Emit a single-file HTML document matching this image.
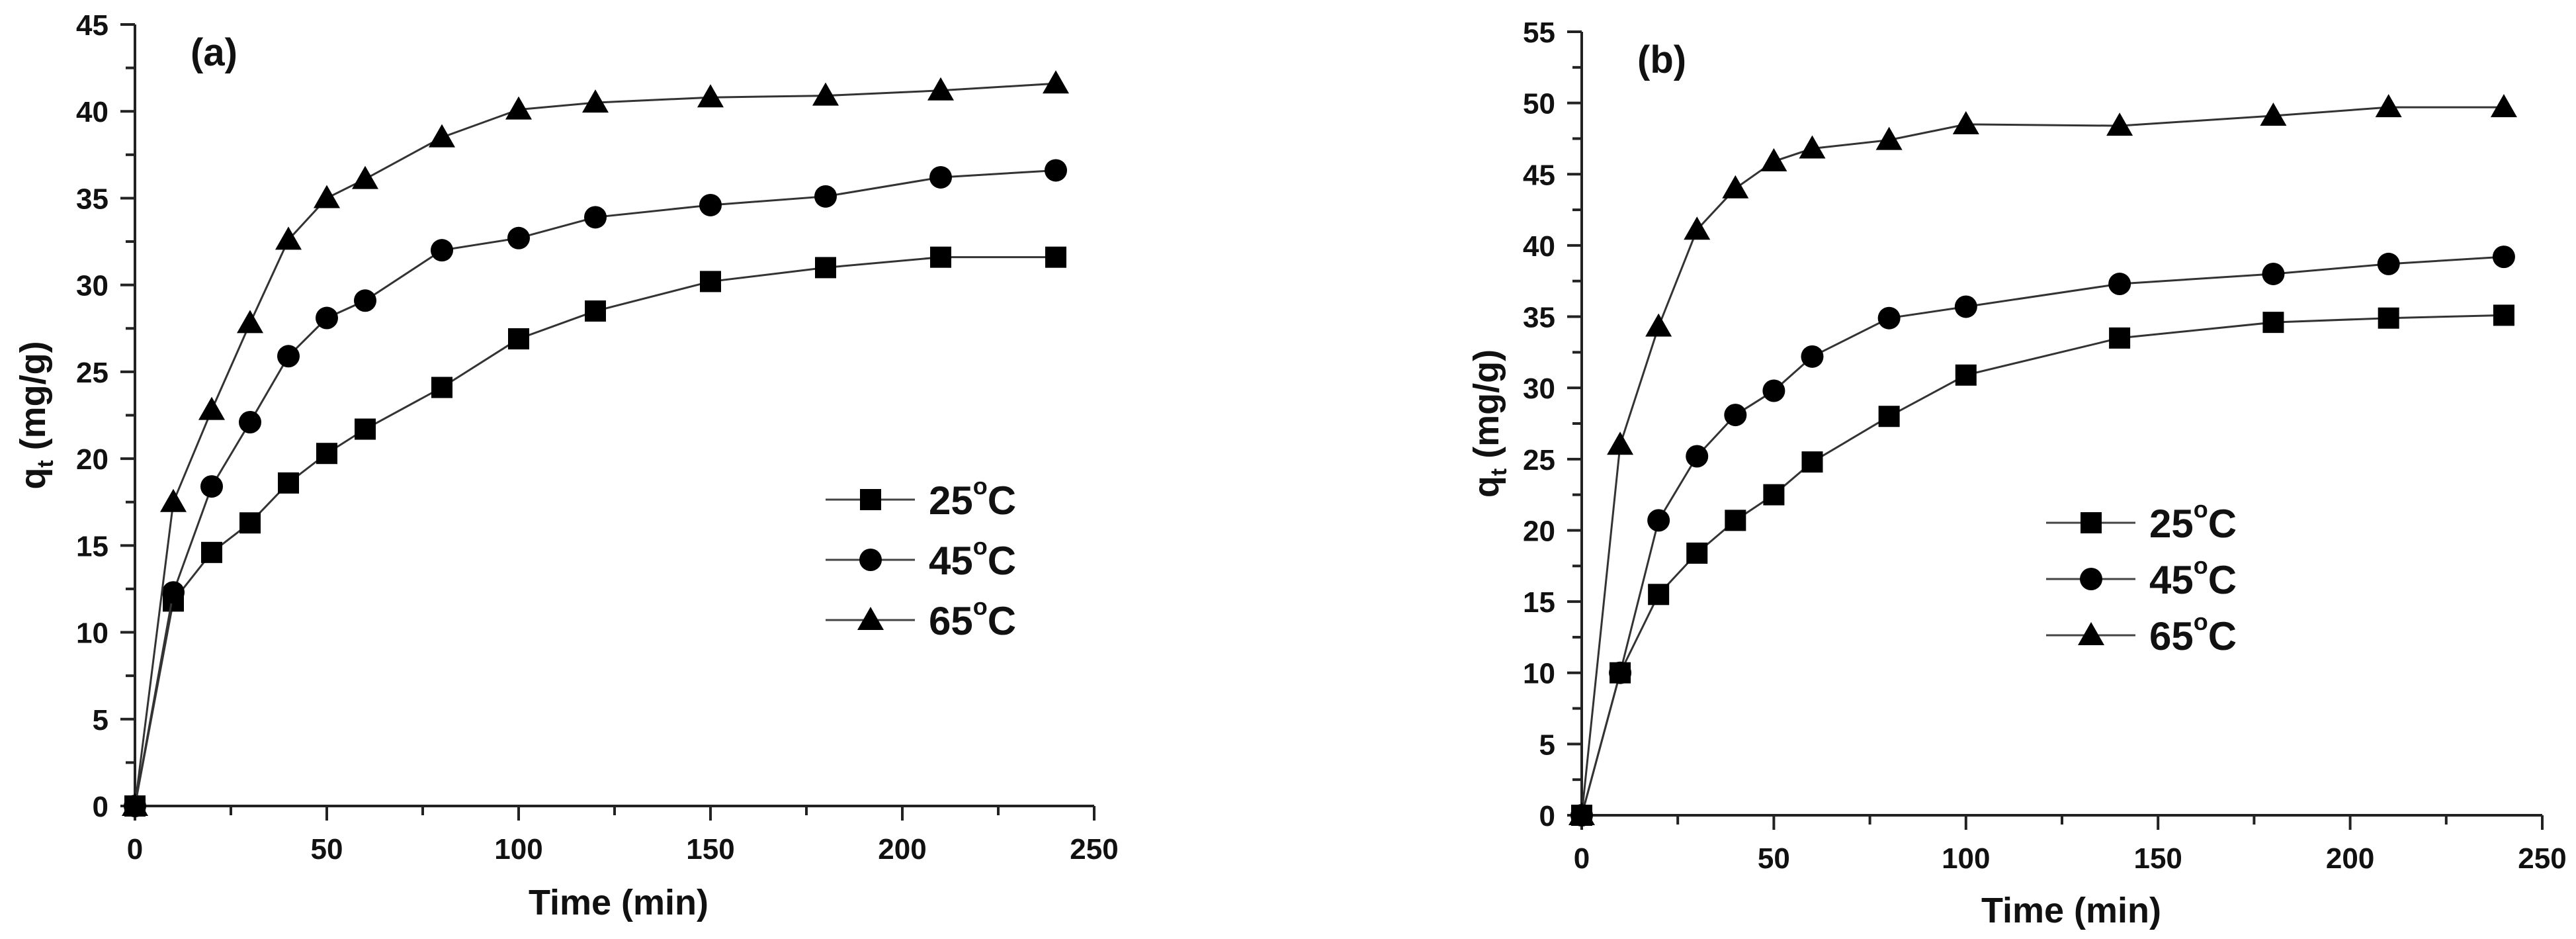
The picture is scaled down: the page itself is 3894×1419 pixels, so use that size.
<!DOCTYPE html>
<html><head><meta charset="utf-8"><style>
html,body{margin:0;padding:0;background:#fff;}
svg{display:block;font-family:"Liberation Sans",Arial,sans-serif;font-weight:bold;}
</style></head><body>
<svg id="fig" width="3894" height="1419" viewBox="0 0 3894 1419" xmlns="http://www.w3.org/2000/svg"></svg>
<script>
const timesA = [0,10,20,30,40,50,60,80,100,120,150,180,210,240];
const a25 = [0,11.8,14.6,16.3,18.6,20.3,21.7,24.1,26.9,28.5,30.2,31.0,31.6,31.6];
const a45 = [0,12.3,18.4,22.1,25.9,28.1,29.1,32.0,32.7,33.9,34.6,35.1,36.2,36.6];
const a65 = [0,17.5,22.8,27.8,32.6,35.0,36.1,38.5,40.1,40.5,40.8,40.9,41.2,41.6];
const timesB = [0,10,20,30,40,50,60,80,100,140,180,210,240];
const b25 = [0,10,15.5,18.4,20.7,22.5,24.8,28.0,30.9,33.5,34.6,34.9,35.1];
const b45 = [0,10,20.7,25.2,28.1,29.8,32.2,34.9,35.7,37.3,38.0,38.7,39.2];
const b65 = [0,26,34.3,41.1,44.0,45.9,46.8,47.4,48.5,48.4,49.1,49.7,49.7];
const xTicks = [0,50,100,150,200,250];
const yTicksA = [0,5,10,15,20,25,30,35,40,45];
const yTicksB = [0,5,10,15,20,25,30,35,40,45,50,55];
const seriesNames = ["25°C","45°C","65°C"];

const NS="http://www.w3.org/2000/svg";
const svg=document.getElementById('fig');
function mk(tag,attrs,parent){const e=document.createElementNS(NS,tag);for(const k in attrs)e.setAttribute(k,attrs[k]);(parent||svg).appendChild(e);return e;}

function marker(g,type,cx,cy){
  let e;
  if(type===0){e=mk('rect',{x:cx-16,y:cy-16,width:32,height:32,fill:'#000'},g);}
  else if(type===1){e=mk('circle',{cx:cx,cy:cy,r:17,fill:'#000'},g);}
  else{e=mk('polygon',{points:`${cx},${cy-20} ${cx+20},${cy+15} ${cx-20},${cy+15}`,fill:'#000'},g);}
  return e;
}

function panel(cfg){
  const {x0,x1,y0,y1,ymax,times,series,yTicks,label,legX,legY,legGap,xTitle,yTitleX,name}=cfg;
  const g=mk('g',{});
  
  
  const X=v=>x0+(x1-x0)*v/250;
  const Y=v=>y0-(y0-y1)*v/ymax;
  const ax=mk('path',{d:`M${x0},${y1} V${y0} H${x1}`,stroke:'#222',fill:'none','stroke-width':4},g);
  
  
  mk('line',{x1:x0-22,y1:y1,x2:x0,y2:y1,stroke:'#222','stroke-width':4},g);
  mk('line',{x1:x1,y1:y0,x2:x1,y2:y0+22,stroke:'#222','stroke-width':4},g);
  for(let v=0;v<=250;v+=25){
    const major=v%50===0;
    mk('line',{x1:X(v),y1:y0,x2:X(v),y2:y0+(major?22:14),stroke:'#222','stroke-width':4},g);
  }
  xTicks.forEach(v=>{
    const t=mk('text',{x:X(v),y:y0+80,'font-size':44,'text-anchor':'middle',fill:'#111'},g);
    t.textContent=v;
    
    
  });
  for(let v=0;v<=ymax;v+=2.5){
    const major=Math.abs(v%5)<1e-6;
    mk('line',{x1:x0-(major?22:14),y1:Y(v),x2:x0,y2:Y(v),stroke:'#222','stroke-width':4},g);
  }
  yTicks.forEach(v=>{
    const t=mk('text',{x:x0-40,y:Y(v)+16,'font-size':44,'text-anchor':'end',fill:'#111'},g);
    t.textContent=v;
    
    
  });
  const xt=mk('text',{x:xTitle[0],y:xTitle[1],'font-size':54,'text-anchor':'middle',fill:'#111'},g);
  xt.textContent='Time (min)';
  
  
  const yt=mk('text',{transform:`translate(${yTitleX},${(y0+y1)/2}) rotate(-90)`,'font-size':54,'text-anchor':'middle',fill:'#111'},g);
  yt.innerHTML='q<tspan font-size="34" dy="12">t</tspan><tspan dy="-12"> (mg/g)</tspan>';
  
  
  const lb=mk('text',{x:x0+84,y:y1+62,'font-size':58,fill:'#111'},g);
  lb.textContent=label;
  
  
  series.forEach((vals,si)=>{
    const sg=mk('g',{},g);
    
    
    const pts=vals.map((v,i)=>`${X(times[i])},${Y(v)}`).join(' ');
    mk('polyline',{points:pts,fill:'none',stroke:'#333','stroke-width':3},sg);
    vals.forEach((v,i)=>{
      const m=marker(sg,si,X(times[i]),Y(v));
      
      
    });
  });
  seriesNames.forEach((n,i)=>{
    const lg=mk('g',{},g);
    
    
    const cy=legY+i*legGap;
    mk('line',{x1:legX,y1:cy,x2:legX+135,y2:cy,stroke:'#444','stroke-width':3},lg);
    marker(lg,i,legX+68,cy);
    const t=mk('text',{x:legX+156,y:cy+22,'font-size':60,fill:'#111'},lg);
    t.innerHTML=n.replace('°C','')+'<tspan font-size="36" dy="-30">o</tspan><tspan dy="30">C</tspan>';
  });
}

panel({name:'panel-a',x0:204,x1:1654,y0:1218,y1:37,ymax:45,times:timesA,series:[a25,a45,a65],yTicks:yTicksA,label:'(a)',legX:1248,legY:755,legGap:91,xTitle:[935,1382],yTitleX:68});
panel({name:'panel-b',x0:2391,x1:3843,y0:1232,y1:48,ymax:55,times:timesB,series:[b25,b45,b65],yTicks:yTicksB,label:'(b)',legX:3093,legY:790,legGap:85,xTitle:[3131,1394],yTitleX:2265});
</script>
</body></html>
